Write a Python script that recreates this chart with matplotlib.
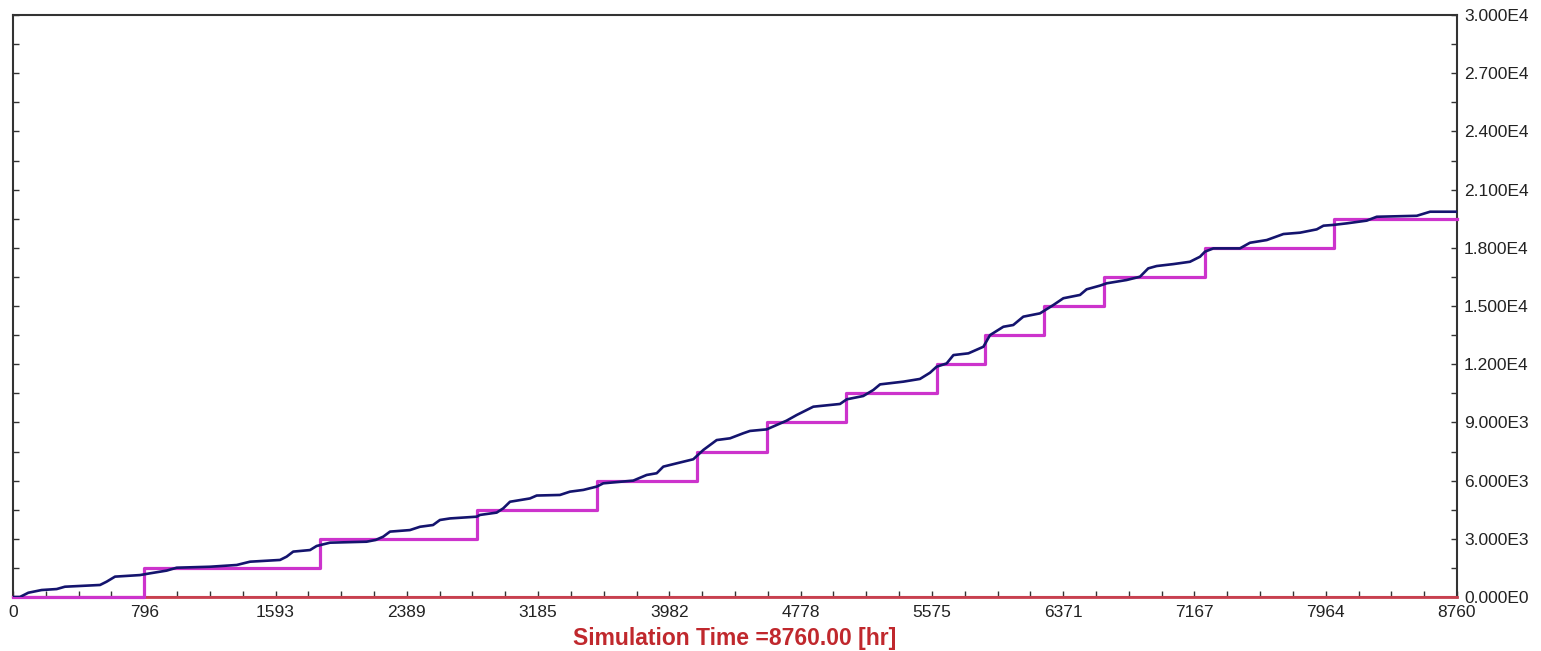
import numpy as np
import matplotlib
matplotlib.use("Agg")
import matplotlib.pyplot as plt
from matplotlib.ticker import FixedLocator, MultipleLocator

# Cumulative simulated quantity (dark blue curve)
sim_hours = [0, 42, 93, 174, 265, 315, 528, 568, 619, 770, 831, 932, 993, 1195,
             1357, 1438, 1620, 1660, 1700, 1802, 1842, 1923, 2145, 2200, 2246,
             2287, 2408, 2469, 2548, 2590, 2651, 2813, 2833, 2934, 2974, 3015,
             3136, 3177, 3318, 3379, 3460, 3541, 3581, 3763, 3844, 3905, 3945,
             4026, 4127, 4188, 4269, 4350, 4430, 4471, 4572, 4693, 4754, 4855,
             5017, 5058, 5158, 5219, 5260, 5401, 5502, 5563, 5603, 5664, 5705,
             5796, 5887, 5927, 6008, 6068, 6129, 6230, 6311, 6372, 6473, 6513,
             6594, 6635, 6756, 6837, 6887, 6938, 7039, 7140, 7201, 7231, 7282,
             7443, 7504, 7606, 7707, 7808, 7909, 7950, 8010, 8091, 8212, 8273,
             8516, 8597, 8760]
sim_values = [0, 0, 220, 360, 410, 530, 620, 790, 1050, 1130, 1220, 1360, 1510,
              1560, 1650, 1820, 1910, 2080, 2340, 2420, 2630, 2800, 2850, 2940,
              3110, 3370, 3450, 3620, 3710, 3970, 4050, 4140, 4230, 4350, 4570,
              4910, 5080, 5230, 5260, 5430, 5520, 5690, 5860, 6000, 6290, 6380,
              6720, 6890, 7100, 7580, 8090, 8180, 8440, 8560, 8640, 9090, 9380,
              9810, 9950, 10190, 10360, 10670, 10960, 11100, 11240, 11560, 11870,
              12040, 12470, 12560, 12900, 13500, 13930, 14020, 14450, 14620,
              15050, 15400, 15570, 15860, 16050, 16170, 16340, 16510, 16940,
              17060, 17160, 17280, 17540, 17800, 17970, 17970, 18260, 18400,
              18710, 18780, 18950, 19140, 19180, 19260, 19400, 19600, 19650,
              19860, 19860]

# Scheduled deliveries (magenta staircase)
step_hours = [0, 796, 1862, 2817, 3545, 4147, 4576, 5055, 5606, 5899, 6255,
              6616, 7229, 8015, 8760]
step_values = [0, 1500, 3000, 4500, 6000, 7500, 9000, 10500, 12000, 13500,
               15000, 16500, 18000, 19500, 19500]

# Zero baseline series (red)
base_hours = [0, 8760]
base_values = [0, 0]

x_ticks = [0, 796, 1593, 2389, 3185, 3982, 4778, 5575, 6371, 7167, 7964, 8760]
x_labels = [str(v) for v in x_ticks]
x_tick_pos = [i * 8760 / 11 for i in range(12)]
y_ticks = [0, 3000, 6000, 9000, 12000, 15000, 18000, 21000, 24000, 27000, 30000]
y_labels = ["0.000E0", "3.000E3", "6.000E3", "9.000E3", "1.200E4", "1.500E4",
            "1.800E4", "2.100E4", "2.400E4", "2.700E4", "3.000E4"]

plt.rcParams["font.family"] = ["Liberation Sans", "DejaVu Sans"]

fig = plt.figure(figsize=(15.41, 6.51), dpi=100)
ax = fig.add_axes([13 / 1541, 1 - 597 / 651, (1457 - 13) / 1541, (597 - 15) / 651])

ax.plot(base_hours, base_values, color="#c8404f", lw=2.0, zorder=2, clip_on=False)
ax.plot(step_hours, step_values, drawstyle="steps-post", color="#cc33cc",
        lw=2.3, zorder=3, clip_on=False)
ax.plot(sim_hours, sim_values, color="#14146e", lw=1.9, zorder=4)

ax.set_xlim(0, 8760)
ax.set_ylim(0, 30000)

# x axis: labels at 11 equal divisions, minor ticks at quarter spacing
ax.xaxis.set_major_locator(FixedLocator(x_tick_pos))
ax.set_xticklabels(x_labels)
ax.xaxis.set_minor_locator(FixedLocator([i * 8760 / 44 for i in range(45)]))
ax.tick_params(axis="x", which="both", direction="in", length=4, width=1,
               colors="#333333", labelsize=12.5, pad=6, labelcolor="#222222")

# y axis: labels on the right, inward ticks on both sides
ax.yaxis.set_major_locator(FixedLocator(y_ticks))
ax.yaxis.set_minor_locator(MultipleLocator(1500))
ax.yaxis.tick_right()
ax.set_yticklabels(y_labels)
ax.tick_params(axis="y", which="both", direction="in", length=4, width=1,
               left=True, right=True, labelleft=False, labelright=True,
               colors="#333333", labelsize=12.5, pad=5, labelcolor="#222222")

for side in ["left", "top", "right"]:
    ax.spines[side].set_color("#333333")
    ax.spines[side].set_linewidth(1.5)
ax.spines["bottom"].set_color("#c8404f")
ax.spines["bottom"].set_linewidth(1.5)

ax.set_xlabel("Simulation Time =8760.00 [hr]", color="#c0282d", fontsize=16.5,
              fontweight="bold", labelpad=5)

fig.savefig("out.png", dpi=100, facecolor="white")
